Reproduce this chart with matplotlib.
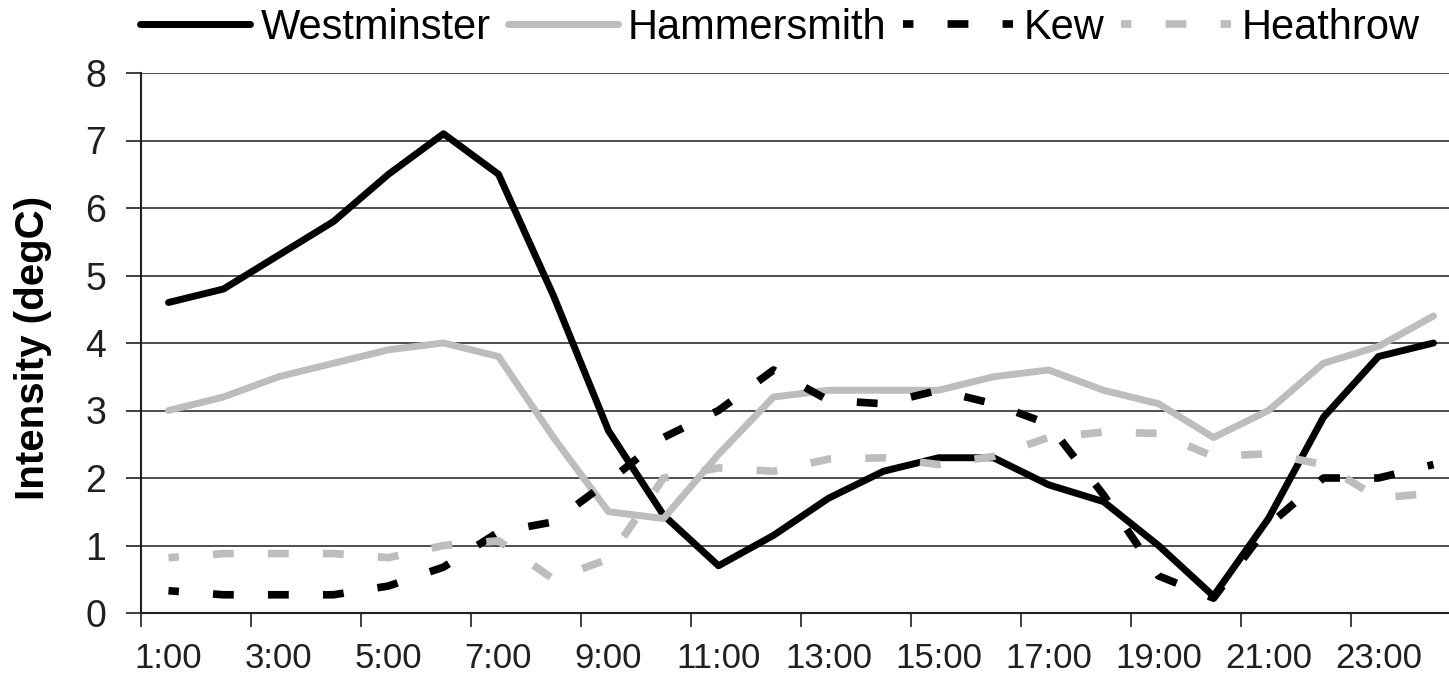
import numpy as np
import matplotlib
matplotlib.use("Agg")
import matplotlib.pyplot as plt

plt.rcParams['font.family'] = ['Liberation Sans', 'DejaVu Sans']
plt.rcParams['lines.scale_dashes'] = False

# hourly urban heat island intensity (degC)
hours = ['%d:00' % h for h in range(1, 25)]
westminster = [4.6, 4.8, 5.3, 5.8, 6.5, 7.1, 6.5, 4.7, 2.7, 1.45, 0.7, 1.15,
               1.7, 2.1, 2.3, 2.3, 1.9, 1.65, 1.0, 0.25, 1.4, 2.9, 3.8, 4.0]
hammersmith = [3.0, 3.2, 3.5, 3.7, 3.9, 4.0, 3.8, 2.6, 1.5, 1.4, 2.35, 3.2,
               3.3, 3.3, 3.3, 3.5, 3.6, 3.3, 3.1, 2.6, 3.0, 3.7, 3.95, 4.4]
kew = [0.33, 0.27, 0.27, 0.27, 0.4, 0.68, 1.2, 1.35, 1.95, 2.6, 3.0, 3.6,
       3.15, 3.1, 3.3, 3.1, 2.8, 1.75, 0.55, 0.22, 1.3, 2.0, 2.0, 2.2]
heathrow = [0.82, 0.88, 0.88, 0.88, 0.82, 1.0, 1.07, 0.5, 0.8, 2.0, 2.15, 2.1,
            2.28, 2.3, 2.2, 2.32, 2.6, 2.68, 2.66, 2.32, 2.36, 2.2, 1.7, 1.78]

black = '#000000'
grey = '#bdbdbd'
dash = (7.5, (15, 24.6))

fig = plt.figure(figsize=(14.49, 6.79), dpi=100)
# plot area runs a little past the right edge of the picture, as in the original
ax = fig.add_axes([141 / 1449, 1 - 613 / 679, 1320 / 1449, 540 / 679])

x = np.arange(len(hours)) + 0.5
ax.plot(x, westminster, color=black, lw=5, label='Westminster',
        solid_joinstyle='round', solid_capstyle='round')
ax.plot(x, hammersmith, color=grey, lw=5, label='Hammersmith',
        solid_joinstyle='round', solid_capstyle='round')
ax.plot(x, kew, color=black, lw=5.5, linestyle=dash, label='Kew',
        dash_capstyle='butt')
ax.plot(x, heathrow, color=grey, lw=5.5, linestyle=dash, label='Heathrow',
        dash_capstyle='butt')

ax.set_xlim(0, 24)
ax.set_ylim(0, 8)
ax.set_yticks(range(0, 9))
ax.yaxis.grid(True, color='#404040', lw=1.3)
ax.set_axisbelow(True)

ax.set_xticks(np.arange(0, 25, 2))
ax.set_xticklabels([])
ax.set_xticks(x[::2], minor=True)
ax.set_xticklabels(hours[::2], minor=True)
ax.tick_params(axis='x', which='minor', length=0, pad=21, labelsize=25)
ax.tick_params(axis='x', which='major', length=10, width=1.3, direction='out',
               color='#303030')
ax.tick_params(axis='y', length=11, width=1.3, pad=14, labelsize=27,
               color='#303030')
for lbl in ax.get_yticklabels() + ax.get_xticklabels(minor=True):
    lbl.set_color('#202020')

for side in ['top', 'right']:
    ax.spines[side].set_visible(False)
for side in ['left', 'bottom']:
    ax.spines[side].set_linewidth(1.5)
    ax.spines[side].set_color('#202020')

fig.text(33 / 1449, 1 - 348 / 679, 'Intensity (degC)', rotation=90,
         ha='center', va='center', fontsize=29, fontweight='bold')

fig.legend(loc='center', bbox_to_anchor=(780 / 1449, 1 - 28 / 679), ncol=4,
           frameon=False, fontsize=30, handlelength=2.64, handletextpad=0.25,
           columnspacing=0.4, borderpad=0, borderaxespad=0)

fig.savefig('out.png', dpi=100)
